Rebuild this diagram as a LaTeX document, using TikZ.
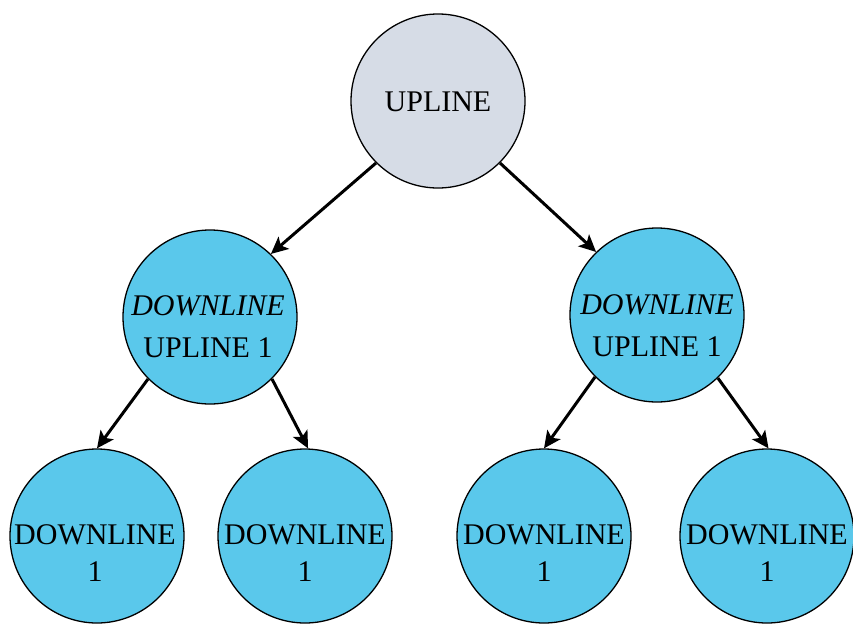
\documentclass[tikz,border=0pt]{standalone}
\usepackage{fontspec}
\setmainfont{Liberation Serif}
\usetikzlibrary{arrows.meta}
\definecolor{rootfill}{HTML}{D6DCE6}
\definecolor{childfill}{HTML}{5AC8EB}
\tikzset{
  member/.style={circle, draw=black, line width=1.3pt, minimum size=174pt, inner sep=0pt},
  rootnode/.style={member, fill=rootfill},
  childnode/.style={member, fill=childfill},
  caption/.style={inner sep=0pt, align=center, font=\fontsize{30}{42}\selectfont},
  smallcaption/.style={inner sep=0pt, align=center, font=\fontsize{30}{37}\selectfont},
  link/.style={line width=3pt, -{Stealth[length=17pt,width=16pt,inset=4pt]}},
}
\begin{document}
\begin{tikzpicture}[x=1pt, y=-1pt]
  \useasboundingbox (0,0) rectangle (853,626);

  % circles
  \node[rootnode]  (up)  at (438,101) {};
  \node[childnode] (dl)  at (210,317) {};
  \node[childnode] (dr)  at (657,315) {};
  \node[childnode] (b1)  at (97,536)  {};
  \node[childnode] (b2)  at (305,536) {};
  \node[childnode] (b3)  at (544,536) {};
  \node[childnode] (b4)  at (767,536) {};

  % labels
  \node[caption] (upt) at (438,102) {UPLINE};
  \node[caption] (dlt) at (208,327) {\textit{DOWNLINE}\\UPLINE 1};
  \node[caption] (drt) at (657,326) {\textit{DOWNLINE}\\UPLINE 1};
  \node[smallcaption] (b1t) at (95,553)  {DOWNLINE\\1};
  \node[smallcaption] (b2t) at (305,553) {DOWNLINE\\1};
  \node[smallcaption] (b3t) at (544,553) {DOWNLINE\\1};
  \node[smallcaption] (b4t) at (767,553) {DOWNLINE\\1};

  % connectors
  \draw[link] (up.225) -- (dl.46);
  \draw[link] (up.-45) -- (dr.134);
  \draw[link] (dl.225) -- (b1.90);
  \draw[link] (dl.-45) -- (b2.88);
  \draw[link] (dr.225) -- (b3.90);
  \draw[link] (dr.-46) -- (b4.89);
\end{tikzpicture}
\end{document}
